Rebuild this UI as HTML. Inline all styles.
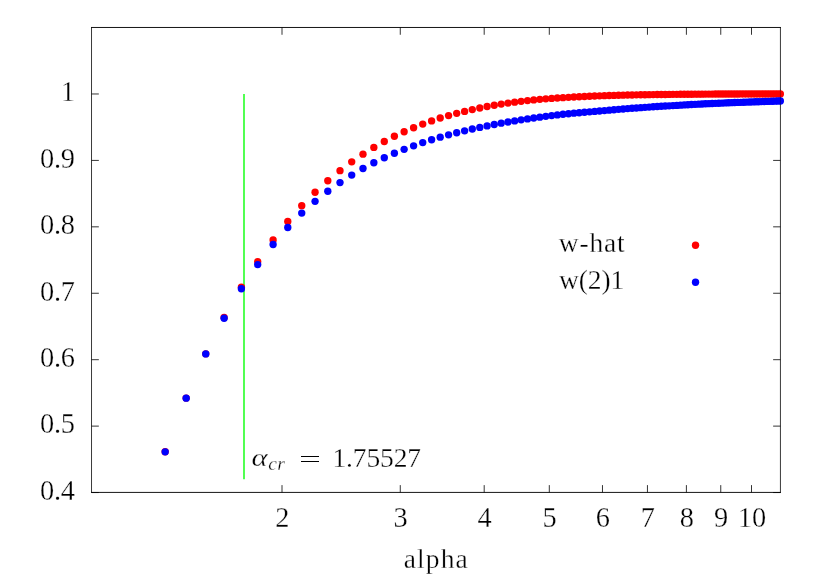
<!DOCTYPE html>
<html><head><meta charset="utf-8"><title>plot</title>
<style>
html,body{margin:0;padding:0;background:#fff;}
body{width:830px;height:581px;overflow:hidden;font-family:"Liberation Serif",serif;}
svg{display:block;will-change:transform;}
text{font-family:"Liberation Serif",serif;fill:#000;stroke:#fff;stroke-width:0.3px;}
</style></head><body>
<svg width="830" height="581" viewBox="0 0 830 581">
<rect x="0" y="0" width="830" height="581" fill="#ffffff"/>

<g fill="none" stroke="#000" stroke-width="0.8">
<path d="M91.53 27.07V492.82M780.43 27.07V492.82" stroke-width="0.78"/>
<path d="M91.13 27.47H780.83M91.13 492.42H780.83" stroke-width="0.92"/>
<path d="M91.53 492.55h7.3M780.43 492.55h-7.3"/>
<path d="M91.53 426.12h7.3M780.43 426.12h-7.3"/>
<path d="M91.53 359.69h7.3M780.43 359.69h-7.3"/>
<path d="M91.53 293.26h7.3M780.43 293.26h-7.3"/>
<path d="M91.53 226.84h7.3M780.43 226.84h-7.3"/>
<path d="M91.53 160.41h7.3M780.43 160.41h-7.3"/>
<path d="M91.53 93.98h7.3M780.43 93.98h-7.3"/>
<path d="M282.0 492.42v-7.3M282.0 27.47v7.3"/>
<path d="M400.28 492.42v-7.3M400.28 27.47v7.3"/>
<path d="M484.2 492.42v-7.3M484.2 27.47v7.3"/>
<path d="M549.3 492.42v-7.3M549.3 27.47v7.3"/>
<path d="M602.48 492.42v-7.3M602.48 27.47v7.3"/>
<path d="M647.45 492.42v-7.3M647.45 27.47v7.3"/>
<path d="M686.4 492.42v-7.3M686.4 27.47v7.3"/>
<path d="M720.76 492.42v-7.3M720.76 27.47v7.3"/>
<path d="M751.5 492.42v-7.3M751.5 27.47v7.3"/>
</g>
<line x1="244.0" y1="93.93" x2="244.0" y2="479.21" stroke="#00ff00" stroke-width="1.36"/>
<g fill="#ff0000">
<circle cx="165.17" cy="451.75" r="3.68"/>
<circle cx="186.17" cy="398.10" r="3.68"/>
<circle cx="205.76" cy="353.85" r="3.68"/>
<circle cx="224.11" cy="317.50" r="3.68"/>
<circle cx="241.38" cy="287.30" r="3.68"/>
<circle cx="257.68" cy="261.60" r="3.68"/>
<circle cx="273.11" cy="239.95" r="3.68"/>
<circle cx="287.78" cy="221.50" r="3.68"/>
<circle cx="301.74" cy="205.68" r="3.68"/>
<circle cx="315.06" cy="192.29" r="3.68"/>
<circle cx="327.80" cy="180.70" r="3.68"/>
<circle cx="340.01" cy="170.63" r="3.68"/>
<circle cx="351.72" cy="161.81" r="3.68"/>
<circle cx="362.99" cy="154.13" r="3.68"/>
<circle cx="373.84" cy="147.40" r="3.68"/>
<circle cx="384.29" cy="141.48" r="3.68"/>
<circle cx="394.39" cy="136.25" r="3.68"/>
<circle cx="404.14" cy="131.79" r="3.68"/>
<circle cx="413.59" cy="127.71" r="3.68"/>
<circle cx="422.73" cy="124.11" r="3.68"/>
<circle cx="431.60" cy="120.90" r="3.68"/>
<circle cx="440.20" cy="118.05" r="3.68"/>
<circle cx="448.56" cy="115.56" r="3.68"/>
<circle cx="456.69" cy="113.33" r="3.68"/>
<circle cx="464.60" cy="111.41" r="3.68"/>
<circle cx="472.29" cy="109.60" r="3.68"/>
<circle cx="479.79" cy="107.99" r="3.68"/>
<circle cx="487.10" cy="106.54" r="3.68"/>
<circle cx="494.24" cy="105.26" r="3.68"/>
<circle cx="501.20" cy="104.11" r="3.68"/>
<circle cx="508.00" cy="103.08" r="3.68"/>
<circle cx="514.65" cy="102.16" r="3.68"/>
<circle cx="521.14" cy="101.33" r="3.68"/>
<circle cx="527.50" cy="100.59" r="3.68"/>
<circle cx="533.72" cy="99.93" r="3.68"/>
<circle cx="539.81" cy="99.33" r="3.68"/>
<circle cx="545.77" cy="98.82" r="3.68"/>
<circle cx="551.62" cy="98.38" r="3.68"/>
<circle cx="557.35" cy="97.99" r="3.68"/>
<circle cx="562.97" cy="97.65" r="3.68"/>
<circle cx="568.49" cy="97.31" r="3.68"/>
<circle cx="573.90" cy="97.00" r="3.68"/>
<circle cx="579.21" cy="96.72" r="3.68"/>
<circle cx="584.43" cy="96.46" r="3.68"/>
<circle cx="589.56" cy="96.23" r="3.68"/>
<circle cx="594.60" cy="96.02" r="3.68"/>
<circle cx="599.55" cy="95.83" r="3.68"/>
<circle cx="604.42" cy="95.66" r="3.68"/>
<circle cx="609.21" cy="95.52" r="3.68"/>
<circle cx="613.92" cy="95.38" r="3.68"/>
<circle cx="618.56" cy="95.26" r="3.68"/>
<circle cx="623.13" cy="95.15" r="3.68"/>
<circle cx="627.62" cy="95.05" r="3.68"/>
<circle cx="632.05" cy="94.96" r="3.68"/>
<circle cx="636.41" cy="94.87" r="3.68"/>
<circle cx="640.71" cy="94.80" r="3.68"/>
<circle cx="644.94" cy="94.72" r="3.68"/>
<circle cx="649.11" cy="94.66" r="3.68"/>
<circle cx="653.23" cy="94.60" r="3.68"/>
<circle cx="657.28" cy="94.54" r="3.68"/>
<circle cx="661.29" cy="94.49" r="3.68"/>
<circle cx="665.23" cy="94.45" r="3.68"/>
<circle cx="669.13" cy="94.40" r="3.68"/>
<circle cx="672.97" cy="94.36" r="3.68"/>
<circle cx="676.77" cy="94.33" r="3.68"/>
<circle cx="680.51" cy="94.29" r="3.68"/>
<circle cx="684.21" cy="94.26" r="3.68"/>
<circle cx="687.86" cy="94.24" r="3.68"/>
<circle cx="691.46" cy="94.21" r="3.68"/>
<circle cx="695.03" cy="94.18" r="3.68"/>
<circle cx="698.55" cy="94.15" r="3.68"/>
<circle cx="702.02" cy="94.13" r="3.68"/>
<circle cx="705.46" cy="94.11" r="3.68"/>
<circle cx="708.85" cy="94.08" r="3.68"/>
<circle cx="712.21" cy="94.06" r="3.68"/>
<circle cx="715.53" cy="94.05" r="3.68"/>
<circle cx="718.81" cy="94.03" r="3.68"/>
<circle cx="722.06" cy="94.01" r="3.68"/>
<circle cx="725.27" cy="94.00" r="3.68"/>
<circle cx="728.44" cy="93.99" r="3.68"/>
<circle cx="731.58" cy="93.97" r="3.68"/>
<circle cx="734.69" cy="93.96" r="3.68"/>
<circle cx="737.76" cy="93.95" r="3.68"/>
<circle cx="740.80" cy="93.93" r="3.68"/>
<circle cx="743.81" cy="93.92" r="3.68"/>
<circle cx="746.79" cy="93.92" r="3.68"/>
<circle cx="749.74" cy="93.92" r="3.68"/>
<circle cx="752.66" cy="93.91" r="3.68"/>
<circle cx="755.55" cy="93.91" r="3.68"/>
<circle cx="758.42" cy="93.91" r="3.68"/>
<circle cx="761.25" cy="93.91" r="3.68"/>
<circle cx="764.06" cy="93.91" r="3.68"/>
<circle cx="766.84" cy="93.92" r="3.68"/>
<circle cx="769.59" cy="93.92" r="3.68"/>
<circle cx="772.32" cy="93.92" r="3.68"/>
<circle cx="775.03" cy="93.93" r="3.68"/>
<circle cx="777.71" cy="93.93" r="3.68"/>
<circle cx="780.36" cy="93.94" r="3.68"/>
<circle cx="695.52" cy="245.2" r="3.68"/>
</g>
<g fill="#0000ff">
<circle cx="165.17" cy="451.85" r="3.68"/>
<circle cx="186.17" cy="398.15" r="3.68"/>
<circle cx="205.76" cy="353.90" r="3.68"/>
<circle cx="224.11" cy="318.30" r="3.68"/>
<circle cx="241.38" cy="288.75" r="3.68"/>
<circle cx="257.68" cy="264.60" r="3.68"/>
<circle cx="273.11" cy="244.45" r="3.68"/>
<circle cx="287.78" cy="227.50" r="3.68"/>
<circle cx="301.74" cy="213.07" r="3.68"/>
<circle cx="315.06" cy="201.32" r="3.68"/>
<circle cx="327.80" cy="191.27" r="3.68"/>
<circle cx="340.01" cy="182.61" r="3.68"/>
<circle cx="351.72" cy="175.06" r="3.68"/>
<circle cx="362.99" cy="168.51" r="3.68"/>
<circle cx="373.84" cy="162.77" r="3.68"/>
<circle cx="384.29" cy="157.71" r="3.68"/>
<circle cx="394.39" cy="153.21" r="3.68"/>
<circle cx="404.14" cy="149.37" r="3.68"/>
<circle cx="413.59" cy="145.81" r="3.68"/>
<circle cx="422.73" cy="142.61" r="3.68"/>
<circle cx="431.60" cy="139.73" r="3.68"/>
<circle cx="440.20" cy="137.13" r="3.68"/>
<circle cx="448.56" cy="134.82" r="3.68"/>
<circle cx="456.69" cy="132.71" r="3.68"/>
<circle cx="464.60" cy="130.85" r="3.68"/>
<circle cx="472.29" cy="129.05" r="3.68"/>
<circle cx="479.79" cy="127.40" r="3.68"/>
<circle cx="487.10" cy="125.88" r="3.68"/>
<circle cx="494.24" cy="124.48" r="3.68"/>
<circle cx="501.20" cy="123.19" r="3.68"/>
<circle cx="508.00" cy="121.99" r="3.68"/>
<circle cx="514.65" cy="120.88" r="3.68"/>
<circle cx="521.14" cy="119.84" r="3.68"/>
<circle cx="527.50" cy="118.88" r="3.68"/>
<circle cx="533.72" cy="117.98" r="3.68"/>
<circle cx="539.81" cy="117.14" r="3.68"/>
<circle cx="545.77" cy="116.35" r="3.68"/>
<circle cx="551.62" cy="115.61" r="3.68"/>
<circle cx="557.35" cy="114.91" r="3.68"/>
<circle cx="562.97" cy="114.26" r="3.68"/>
<circle cx="568.49" cy="113.71" r="3.68"/>
<circle cx="573.90" cy="113.19" r="3.68"/>
<circle cx="579.21" cy="112.71" r="3.68"/>
<circle cx="584.43" cy="112.25" r="3.68"/>
<circle cx="589.56" cy="111.82" r="3.68"/>
<circle cx="594.60" cy="111.42" r="3.68"/>
<circle cx="599.55" cy="111.04" r="3.68"/>
<circle cx="604.42" cy="110.59" r="3.68"/>
<circle cx="609.21" cy="110.15" r="3.68"/>
<circle cx="613.92" cy="109.74" r="3.68"/>
<circle cx="618.56" cy="109.34" r="3.68"/>
<circle cx="623.13" cy="108.97" r="3.68"/>
<circle cx="627.62" cy="108.61" r="3.68"/>
<circle cx="632.05" cy="108.28" r="3.68"/>
<circle cx="636.41" cy="107.95" r="3.68"/>
<circle cx="640.71" cy="107.64" r="3.68"/>
<circle cx="644.94" cy="107.35" r="3.68"/>
<circle cx="649.11" cy="107.07" r="3.68"/>
<circle cx="653.23" cy="106.80" r="3.68"/>
<circle cx="657.28" cy="106.54" r="3.68"/>
<circle cx="661.29" cy="106.29" r="3.68"/>
<circle cx="665.23" cy="106.05" r="3.68"/>
<circle cx="669.13" cy="105.82" r="3.68"/>
<circle cx="672.97" cy="105.60" r="3.68"/>
<circle cx="676.77" cy="105.39" r="3.68"/>
<circle cx="680.51" cy="105.17" r="3.68"/>
<circle cx="684.21" cy="104.93" r="3.68"/>
<circle cx="687.86" cy="104.70" r="3.68"/>
<circle cx="691.46" cy="104.49" r="3.68"/>
<circle cx="695.03" cy="104.31" r="3.68"/>
<circle cx="698.55" cy="104.13" r="3.68"/>
<circle cx="702.02" cy="103.96" r="3.68"/>
<circle cx="705.46" cy="103.80" r="3.68"/>
<circle cx="708.85" cy="103.64" r="3.68"/>
<circle cx="712.21" cy="103.49" r="3.68"/>
<circle cx="715.53" cy="103.34" r="3.68"/>
<circle cx="718.81" cy="103.20" r="3.68"/>
<circle cx="722.06" cy="103.06" r="3.68"/>
<circle cx="725.27" cy="102.92" r="3.68"/>
<circle cx="728.44" cy="102.79" r="3.68"/>
<circle cx="731.58" cy="102.66" r="3.68"/>
<circle cx="734.69" cy="102.55" r="3.68"/>
<circle cx="737.76" cy="102.44" r="3.68"/>
<circle cx="740.80" cy="102.34" r="3.68"/>
<circle cx="743.81" cy="102.23" r="3.68"/>
<circle cx="746.79" cy="102.12" r="3.68"/>
<circle cx="749.74" cy="102.01" r="3.68"/>
<circle cx="752.66" cy="101.91" r="3.68"/>
<circle cx="755.55" cy="101.80" r="3.68"/>
<circle cx="758.42" cy="101.70" r="3.68"/>
<circle cx="761.25" cy="101.60" r="3.68"/>
<circle cx="764.06" cy="101.50" r="3.68"/>
<circle cx="766.84" cy="101.41" r="3.68"/>
<circle cx="769.59" cy="101.32" r="3.68"/>
<circle cx="772.32" cy="101.23" r="3.68"/>
<circle cx="775.03" cy="101.14" r="3.68"/>
<circle cx="777.71" cy="101.05" r="3.68"/>
<circle cx="780.36" cy="100.97" r="3.68"/>
<circle cx="695.52" cy="282.25" r="3.68"/>
</g>
<path d="M780.43 89.5V105" stroke="#000" stroke-width="0.78" stroke-opacity="0.4" fill="none"/>
<g font-size="28.4" text-anchor="end">
<text x="74.7" y="499.9" letter-spacing="-0.3">0.4</text>
<text x="74.7" y="433.47" letter-spacing="-0.3">0.5</text>
<text x="74.7" y="367.04" letter-spacing="-0.3">0.6</text>
<text x="74.7" y="300.61" letter-spacing="-0.3">0.7</text>
<text x="74.7" y="234.19" letter-spacing="-0.3">0.8</text>
<text x="74.7" y="167.76" letter-spacing="-0.3">0.9</text>
<text x="74.6" y="101.33" letter-spacing="-0.3">1</text>
</g>
<g font-size="28.4" text-anchor="middle">
<text x="282.4" y="526.8">2</text>
<text x="400.68" y="526.8">3</text>
<text x="484.6" y="526.8">4</text>
<text x="549.7" y="526.8">5</text>
<text x="602.88" y="526.8">6</text>
<text x="647.85" y="526.8">7</text>
<text x="686.8" y="526.8">8</text>
<text x="721.16" y="526.8">9</text>
<text x="751.9" y="526.8">10</text>
</g>
<text x="436.3" y="568.2" font-size="27.5" text-anchor="middle" letter-spacing="1.1">alpha</text>
<text x="558.8" y="251.9" font-size="27.5" letter-spacing="0.8">w-hat</text>
<text x="559" y="289.0" font-size="27.5" letter-spacing="-0.1">w(2)1</text>
<text transform="translate(251.4 466.2) scale(1.2 1)" font-size="25.6" font-style="italic">α</text>
<text x="268.3" y="470.2" font-size="19.5" font-style="italic" letter-spacing="0.3" stroke-width="0.12">cr</text>
<path d="M301 456.5h18M301 461.5h18" stroke="#000" stroke-width="1.1" fill="none"/>
<text x="332.5" y="466.6" font-size="27.5" letter-spacing="-0.15">1.75527</text>
</svg></body></html>
